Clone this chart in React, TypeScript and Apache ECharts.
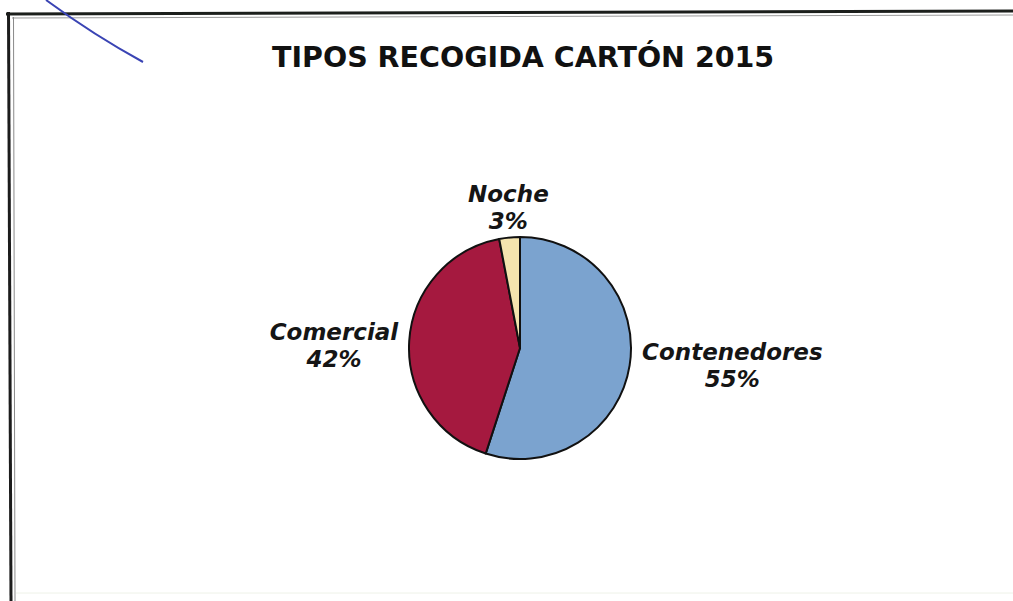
import React, { useEffect, useRef } from "react";
import * as echarts from "echarts";

// ---- data ----
const chartTitle = "TIPOS RECOGIDA CARTÓN 2015";
const categories = ["Contenedores", "Comercial", "Noche"];
const values = [55, 42, 3];

// ---- styles / layout (kept apart from the data) ----
const sliceColors = ["#7ba3cf", "#a5193f", "#f4e4ae"];
// [labelLine length, labelLine length2, extra top padding] per slice
const labelTweaks: [number, number, number][] = [
  [4, 3.5, 0],
  [0, 6, 8],
  [30, -47, 0],
];

const labelFont = {
  fontFamily: "DejaVu Sans",
  fontWeight: "bold" as const,
  fontStyle: "italic" as const,
  fontSize: 23,
  color: "#151515",
};

export default function App() {
  const ref = useRef<HTMLDivElement>(null);

  useEffect(() => {
    if (!ref.current) return;
    const chart = echarts.init(ref.current, undefined, { renderer: "svg" });
    const option: any = {
      animation: false,
      backgroundColor: "#ffffff",
      title: {
        text: chartTitle,
        left: 272,
        top: 43,
        padding: 0,
        textStyle: {
          fontFamily: "DejaVu Sans",
          fontWeight: "bold",
          fontSize: 28.5,
          color: "#111111",
        },
      },
      graphic: [
        // scanned frame
        { type: "line", shape: { x1: 6, y1: 14, x2: 1013, y2: 11 }, style: { stroke: "#1c1f1c", lineWidth: 3 } },
        { type: "line", shape: { x1: 12, y1: 18, x2: 1013, y2: 15 }, style: { stroke: "#9a9a9a", lineWidth: 1 } },
        { type: "line", shape: { x1: 8.5, y1: 12, x2: 11, y2: 601 }, style: { stroke: "#1c1c1c", lineWidth: 3 } },
        { type: "line", shape: { x1: 13.5, y1: 17, x2: 15, y2: 601 }, style: { stroke: "#8a8a8a", lineWidth: 1 } },
        { type: "line", shape: { x1: 16, y1: 593, x2: 1013, y2: 593 }, style: { stroke: "#eef2e8", lineWidth: 1 } },
        // pen stroke
        {
          type: "bezierCurve",
          shape: { x1: 46, y1: 0, cpx1: 80, cpy1: 25, cpx2: 110, cpy2: 44, x2: 143, y2: 62 },
          style: { stroke: "#3a44b4", lineWidth: 2, fill: null },
        },
      ],
      series: [
        {
          type: "pie",
          center: [520, 348],
          radius: 111,
          startAngle: 90,
          clockwise: true,
          avoidLabelOverlap: false,
          emphasis: { disabled: true },
          itemStyle: { borderColor: "#111111", borderWidth: 2 },
          label: {
            show: true,
            position: "outside",
            distanceToLabelLine: 5,
            ...labelFont,
            formatter: (p: any) => `{t|${p.name}}\n{t|${Math.round(p.percent)}%}`,
            rich: { t: { ...labelFont, align: "center", lineHeight: 27 } },
          },
          labelLine: { show: false },
          data: categories.map((name, i) => ({
            name,
            value: values[i],
            itemStyle: { color: sliceColors[i] },
            label: { padding: [labelTweaks[i][2], 0, 0, 0] },
            labelLine: { show: false, length: labelTweaks[i][0], length2: labelTweaks[i][1] },
          })),
        },
      ],
    };
    chart.setOption(option);
    return () => chart.dispose();
  }, []);

  return (
    <div
      ref={ref}
      style={{ position: "absolute", left: 0, top: 0, width: 1013, height: 601, background: "#fff" }}
    />
  );
}
